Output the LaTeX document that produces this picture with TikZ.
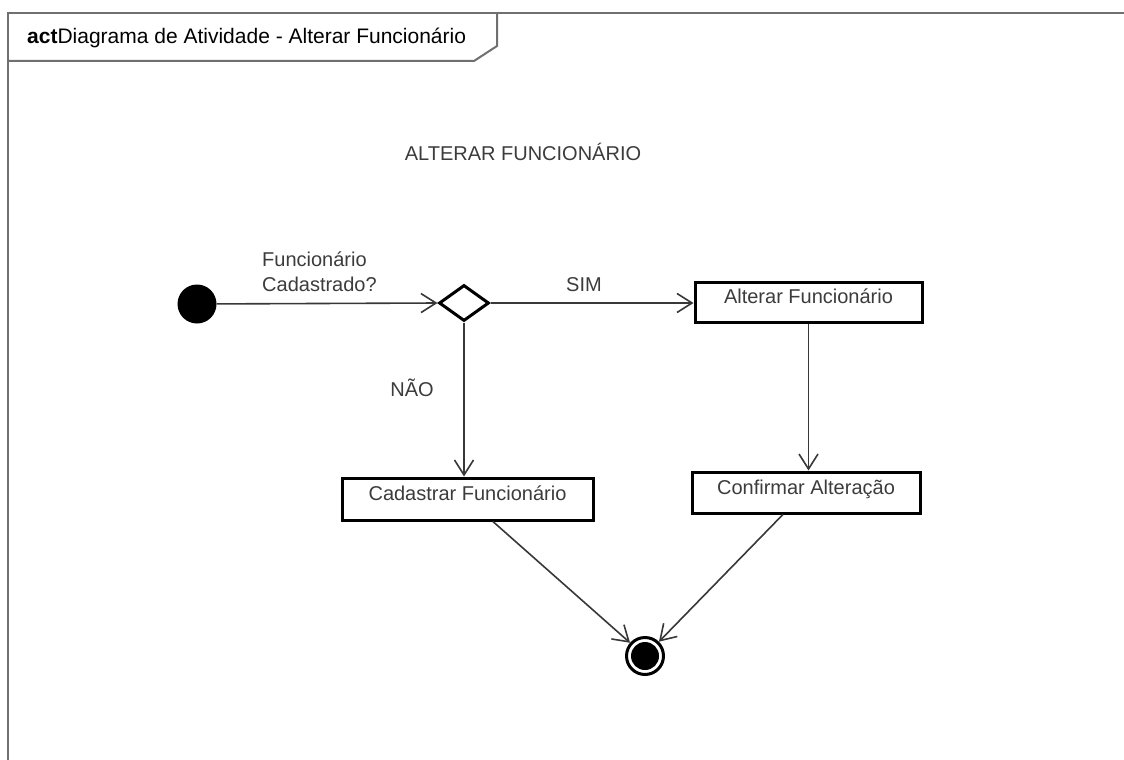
\documentclass[tikz,border=0pt]{standalone}
\usepackage{fontspec}
\setmainfont{Liberation Sans}
\usetikzlibrary{shapes.geometric,arrows.meta,calc}
\definecolor{inkgray}{HTML}{3C3C3C}
\definecolor{linegray}{HTML}{383838}
\definecolor{framegray}{HTML}{707070}
\begin{document}
\begin{tikzpicture}[x=1pt,y=-1pt,
  txt/.style={font=\fontsize{20}{25}\selectfont, text=inkgray, inner sep=0pt},
  actbox/.style={txt, draw=black, line width=3pt, rectangle,
                 text height=14.5pt, text depth=11.5pt},
  initstate/.style={circle, fill=black, minimum size=39pt, inner sep=0pt},
  finalstate/.style={circle, draw=black, fill=white, line width=3pt,
                     minimum size=37pt, inner sep=0pt,
                     path picture={\fill[black] (path picture bounding box.center) circle (14pt);}},
  decision/.style={diamond, draw=black, line width=3pt, fill=white,
                   minimum width=50pt, minimum height=36pt, inner sep=0pt},
  flow/.style={draw=linegray, line width=1.6pt,
               -{Straight Barb[length=15pt,width=19pt,line width=1.6pt]}},
  framestyle/.style={draw=framegray, line width=2.5pt}
]
% page and background
\useasboundingbox (0,0) rectangle (1124,760);
\fill[white] (0,0) rectangle (1124,760);

% diagram frame with its name tab
\draw[framestyle] (8,760) -- (8,13) -- (1124,13);
\draw[framestyle, line width=2pt] (497,13) -- (497,46) -- (474,61) -- (8,61);
\node[txt, text=black, anchor=west, font=\fontsize{21}{25}\selectfont] (frametitle) at (27,38)
  {\textbf{act}Diagrama de Atividade - Alterar Funcionário};

% activity title
\node[txt] (heading) at (523,152) {ALTERAR FUNCIONÁRIO};

% states and actions
\node[initstate] (start) at (197,304) {};
\node[decision] (dec) at (464,303) {};
\node[actbox, minimum width=227pt, minimum height=40pt] (alt) at (808.5,302) {Alterar Funcionário};
\node[actbox, minimum width=228pt, minimum height=41pt] (conf) at (806,492.5) {Confirmar Alteração};
\node[actbox, minimum width=251pt, minimum height=42pt] (cad) at (467.5,499) {Cadastrar Funcionário};
\node[finalstate] (end) at (645,656) {};

% guard labels
\node[txt, anchor=west, align=left] (question) at (262,272) {Funcionário\\Cadastrado?};
\node[txt] (yes) at (584,285) {SIM};
\node[txt] (no) at (412,388) {NÃO};

% control flows
\draw[flow] (start) -- (dec.west);
\draw[flow] (dec.east) -- (dec.east -| alt.west);
\draw[flow] (alt.south) -- (alt.south |- conf.north);
\draw[flow] (dec.south) -- (dec.south |- cad.north);
\draw[flow] ($(cad.south west)!0.6!(cad.south east)$) -- (end);
\draw[flow] ($(conf.south west)!0.4!(conf.south east)$) -- (end);
\end{tikzpicture}
\end{document}
